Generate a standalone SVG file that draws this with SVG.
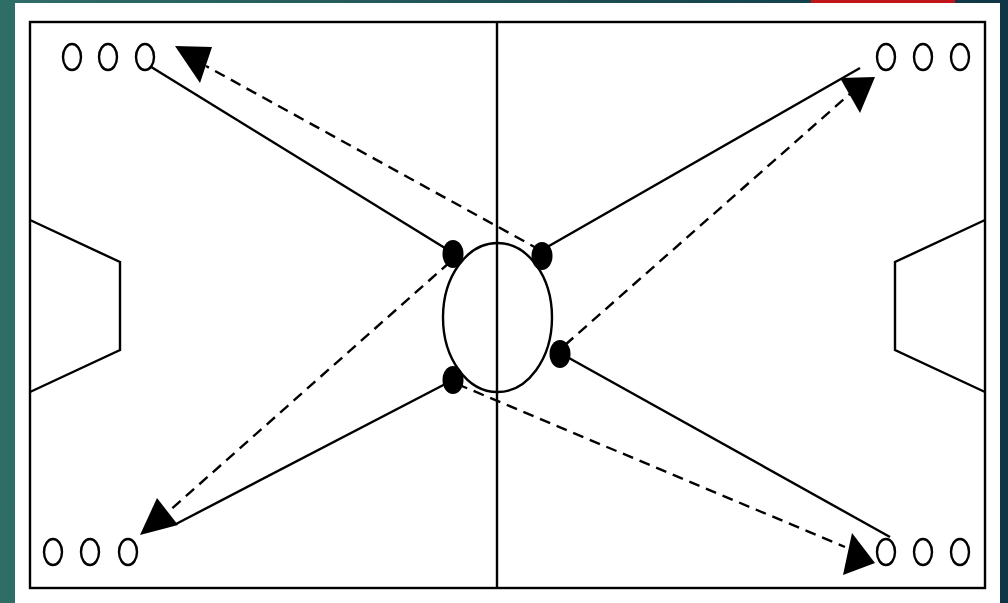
<svg xmlns="http://www.w3.org/2000/svg" width="1008" height="603" viewBox="0 0 1008 603">
<defs>
<linearGradient id="bg" x1="0" y1="0" x2="1" y2="0">
<stop offset="0" stop-color="#2f6e66"/>
<stop offset="1" stop-color="#0f3646"/>
</linearGradient>
<style>
.ln{stroke:#000;stroke-width:2.4;fill:none}
.ds{stroke:#000;stroke-width:2.4;fill:none;stroke-dasharray:11 7}
.pl{stroke:#000;stroke-width:2.4;fill:#fff}
.dot{fill:#000}
.ah{fill:#000}
</style>
</defs>
<rect x="0" y="0" width="1008" height="603" fill="url(#bg)"/>
<rect x="811" y="0" width="144" height="4" fill="#c0141a"/>
<rect x="15" y="3" width="985" height="600" fill="#fff"/>
<g id="field">
<rect x="30" y="22" width="955" height="566" class="ln"/>
<line x1="497" y1="22" x2="497" y2="588" class="ln"/>
<ellipse cx="497.5" cy="317.5" rx="54.5" ry="74.5" class="ln"/>
<polyline points="30,220 120,262 120,350 30,392" class="ln"/>
<polyline points="985,220 895,262 895,350 985,392" class="ln"/>
</g>
<g id="connectors">
<line x1="148" y1="65" x2="453" y2="253" class="ln"/>
<line x1="542" y1="250" x2="860" y2="68" class="ln"/>
<line x1="453" y1="380" x2="176" y2="524" class="ln"/>
<line x1="560" y1="353" x2="890" y2="537" class="ln"/>
<line x1="540" y1="250" x2="206" y2="66" class="ds"/>
<line x1="450" y1="262" x2="168" y2="512" class="ds"/>
<line x1="565" y1="345" x2="852" y2="92" class="ds"/>
<line x1="457" y1="384" x2="845" y2="547" class="ds"/>
<polygon points="175,46 212,47 200,83" class="ah"/>
<polygon points="840,78 875,77 860,113" class="ah"/>
<polygon points="157,498 140,535 178,525" class="ah"/>
<polygon points="852,533 843,575 875,563" class="ah"/>
</g>
<g id="players-top-left">
<ellipse cx="72" cy="57" rx="9" ry="13" class="pl"/>
<ellipse cx="108" cy="57" rx="9" ry="13" class="pl"/>
<ellipse cx="145" cy="57" rx="9" ry="13" class="pl"/>
</g>
<g id="players-top-right">
<ellipse cx="886" cy="57" rx="9" ry="13" class="pl"/>
<ellipse cx="923" cy="57" rx="9" ry="13" class="pl"/>
<ellipse cx="960" cy="57" rx="9" ry="13" class="pl"/>
</g>
<g id="players-bottom-left">
<ellipse cx="53" cy="552" rx="9" ry="13" class="pl"/>
<ellipse cx="90" cy="552" rx="9" ry="13" class="pl"/>
<ellipse cx="128" cy="552" rx="9" ry="13" class="pl"/>
</g>
<g id="players-bottom-right">
<ellipse cx="886" cy="552" rx="9" ry="13" class="pl"/>
<ellipse cx="923" cy="552" rx="9" ry="13" class="pl"/>
<ellipse cx="960" cy="552" rx="9" ry="13" class="pl"/>
</g>
<g id="dot-upper-left"><ellipse cx="453" cy="254" rx="10.5" ry="14" class="dot"/></g>
<g id="dot-upper-right"><ellipse cx="542" cy="256" rx="10.5" ry="14" class="dot"/></g>
<g id="dot-lower-left"><ellipse cx="453" cy="380" rx="10.5" ry="14" class="dot"/></g>
<g id="dot-right-middle"><ellipse cx="560" cy="354" rx="10.5" ry="14" class="dot"/></g>
</svg>
